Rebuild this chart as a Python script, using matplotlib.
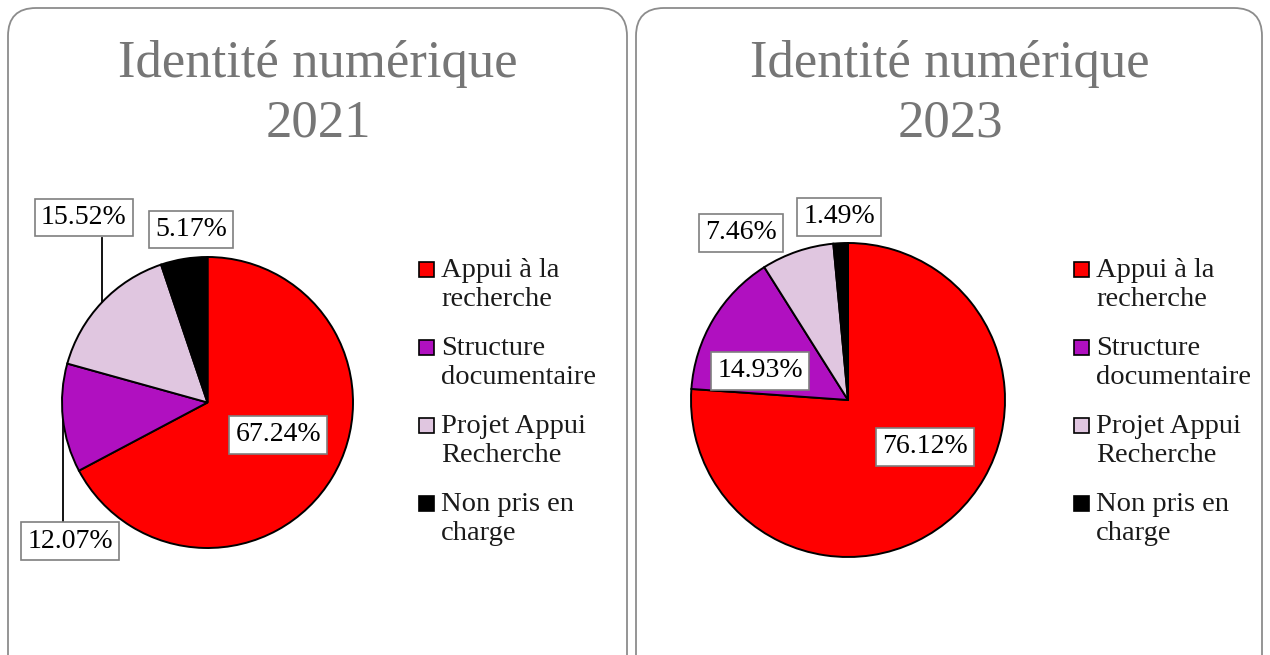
import matplotlib
matplotlib.use('Agg')
import matplotlib.pyplot as plt
from matplotlib.patches import FancyBboxPatch, Rectangle
from matplotlib.transforms import IdentityTransform

plt.rcParams['font.family'] = ['Liberation Serif', 'DejaVu Serif']

categories = ['Appui à la\nrecherche', 'Structure\ndocumentaire',
              'Projet Appui\nRecherche', 'Non pris en\ncharge']
colors = ['#ff0000', '#b010c0', '#e0c6e0', '#000000']
years = ['2021', '2023']
values_2021 = [67.24, 12.07, 15.52, 5.17]
values_2023 = [76.12, 14.93, 7.46, 1.49]

W, H = 1270, 655
fig = plt.figure(figsize=(12.7, 6.55), dpi=100)
fig.patch.set_facecolor('white')

# panel frames, in pixels (top-left origin)
panels = [(8, 627), (636, 1262)]
for x0, x1 in panels:
    box = FancyBboxPatch((x0, -40), x1 - x0, H - 8 + 40,
                         boxstyle='round,pad=0,rounding_size=28',
                         transform=IdentityTransform(), facecolor='none',
                         edgecolor='#8c8c8c', linewidth=1.3)
    fig.patches.append(box)


def add_pie(cx, cy, r, values, label_pos, leaders, year, title_x, leg_x):
    ax = fig.add_axes([(cx - r) / W, (H - cy - r) / H, 2 * r / W, 2 * r / H])
    ax.pie(values, colors=colors, startangle=90, counterclock=False,
           radius=1, wedgeprops=dict(edgecolor='black', linewidth=1.4))
    ax.set_xlim(-1, 1)
    ax.set_ylim(-1, 1)
    ax.axis('off')
    for v, (lx, ly) in zip(values, label_pos):
        ax.text(lx, ly, f'{v:.2f}%', ha='center', va='center', fontsize=20,
                bbox=dict(boxstyle='square,pad=0.22', facecolor='white',
                          edgecolor='#7f7f7f', linewidth=1.2), zorder=5)
    for (x, y0, y1) in leaders:
        ax.plot([x, x], [y0, y1], color='black', linewidth=1.3,
                clip_on=False, zorder=4)

    fig.text(title_x / W, 1 - 94 / H, 'Identité numérique\n' + year,
             ha='center', va='center', fontsize=38, color='#767676',
             linespacing=1.3)

    # legend
    for i, (cat, col) in enumerate(zip(categories, colors)):
        base = 280 + 78 * i
        sq = Rectangle((leg_x, H - base + 3), 15, 15,
                       transform=IdentityTransform(), facecolor=col,
                       edgecolor='black', linewidth=1.2)
        fig.patches.append(sq)
        fig.text((leg_x + 22) / W, 1 - (base - 22) / H, cat, ha='left',
                 va='top', fontsize=20.5, color='#1a1a1a',
                 linespacing=1.2)


add_pie(207.5, 402.5, 145.5, values_2021,
        [(0.485, -0.223), (-0.945, -0.952), (-0.849, 1.270), (-0.113, 1.189)],
        [(-0.725, 1.134, 0.694), (-0.993, -0.821, -0.120)],
        years[0], 318, 419)
add_pie(848, 400, 157, values_2023,
        [(0.490, -0.299), (-0.561, 0.185), (-0.682, 1.064), (-0.057, 1.166)],
        [], years[1], 950, 1074)

fig.savefig('out.png', dpi=100, facecolor='white')
